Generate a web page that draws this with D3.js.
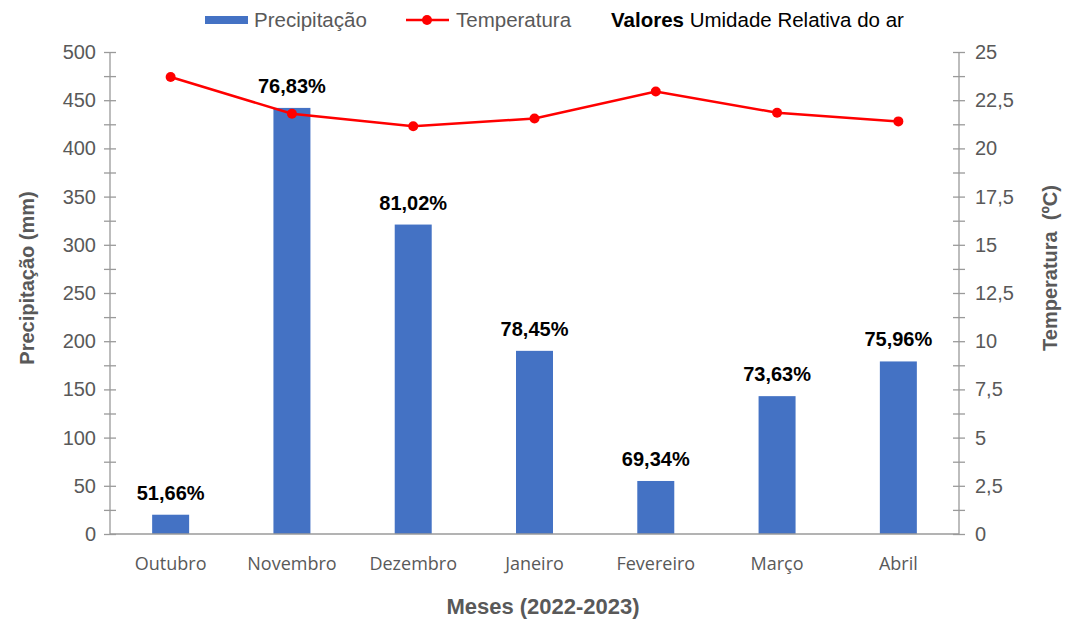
<!DOCTYPE html>
<meta charset="utf-8">
<head>
  <style>
    body { margin: 0; background: #fff; }
    svg { background: #fff; }
    .tick text { fill: #595959; font-family: "Liberation Sans", Arial, sans-serif; font-size: 20px; }
    .axis path, .axis line { stroke: #9a9a9a; stroke-width: 1.3px; }
    .xaxis text { font-family: "Open Sans", sans-serif; font-size: 18px; fill: #595959; }
    .title { font-family: "Liberation Sans", Arial, sans-serif; font-weight: bold; font-size: 20px; fill: #595959; }
    .pct { font-family: "Liberation Sans", Arial, sans-serif; font-weight: bold; font-size: 20px; fill: #000; }
    .legend text { font-family: "Liberation Sans", Arial, sans-serif; font-size: 20.5px; }
  </style>
  <script src="https://cdn.jsdelivr.net/npm/d3@7"></script>
</head>
<body>
  <script>
    // data
    var months = ["Outubro", "Novembro", "Dezembro", "Janeiro", "Fevereiro", "Março", "Abril"]
      , precip = [20, 442, 321, 190, 55, 143, 179]
      , temp   = [23.7, 21.8, 21.15, 21.55, 22.95, 21.85, 21.4]
      , umid   = ["51,66%", "76,83%", "81,02%", "78,45%", "69,34%", "73,63%", "75,96%"]
      , precipTicks = d3.range(0, 501, 25)
      , tempTicks = d3.range(0, 25.01, 1.25)
      ;

    var width = 1065, height = 619
      , pLeft = 110, pRight = 959, pTop = 52, pBottom = 534;

    var svg = d3.select("body").append("svg")
      .attr("width", width)
      .attr("height", height);

    var x = d3.scaleBand().domain(months).range([pLeft, pRight]).paddingInner(0.695).paddingOuter(0.3475);
    var y = d3.scaleLinear().domain([0, 500]).range([pBottom, pTop]);
    var y2 = d3.scaleLinear().domain([0, 25]).range([pBottom, pTop]);

    var fmt = function(d) { return String(d).replace(".", ","); };

    // left axis
    var gl = svg.append("g").attr("class", "axis")
      .attr("transform", "translate(" + pLeft + ",0)")
      .call(d3.axisLeft(y).tickValues(precipTicks).tickSize(6).tickPadding(8)
        .tickFormat(function(d) { return d % 50 === 0 ? d : ""; }));
    gl.select(".domain").attr("d", "M0," + pTop + "V" + pBottom);
    gl.selectAll(".tick line").attr("x1", -6).attr("x2", 6);

    // right axis
    var gr = svg.append("g").attr("class", "axis")
      .attr("transform", "translate(" + pRight + ",0)")
      .call(d3.axisRight(y2).tickValues(tempTicks).tickSize(6).tickPadding(10)
        .tickFormat(function(d, i) { return i % 2 === 0 ? fmt(d) : ""; }));
    gr.select(".domain").attr("d", "M0," + pTop + "V" + pBottom);
    gr.selectAll(".tick line").attr("x1", -6).attr("x2", 6);

    // bars
    svg.selectAll(".bar").data(precip).enter().append("rect")
      .attr("class", "bar")
      .attr("x", function(d, i) { return x(months[i]); })
      .attr("width", x.bandwidth())
      .attr("y", function(d) { return y(d); })
      .attr("height", function(d) { return pBottom - y(d); })
      .attr("fill", "#4472C4");

    // bottom axis
    var gx = svg.append("g").attr("class", "axis xaxis")
      .attr("transform", "translate(0," + pBottom + ")")
      .call(d3.axisBottom(x).tickSize(0).tickPadding(23));
    gx.select(".domain").attr("d", "M" + pLeft + ",0H" + pRight);
    gx.selectAll(".tick text").style("font-family", "'Open Sans', sans-serif").style("font-size", "18px");

    // humidity labels
    svg.selectAll(".pct").data(umid).enter().append("text")
      .attr("class", "pct")
      .attr("text-anchor", "middle")
      .attr("x", function(d, i) { return x(months[i]) + x.bandwidth() / 2; })
      .attr("y", function(d, i) { return y(precip[i]) - 15; })
      .text(function(d) { return d; });

    // temperature line
    var line = d3.line()
      .x(function(d, i) { return x(months[i]) + x.bandwidth() / 2; })
      .y(function(d) { return y2(d); });

    svg.append("path").datum(temp)
      .attr("d", line)
      .attr("fill", "none")
      .attr("stroke", "#FF0000")
      .attr("stroke-width", 2.5);

    svg.selectAll(".dot").data(temp).enter().append("circle")
      .attr("class", "dot")
      .attr("cx", function(d, i) { return x(months[i]) + x.bandwidth() / 2; })
      .attr("cy", function(d) { return y2(d); })
      .attr("r", 5)
      .attr("fill", "#FF0000");

    // axis titles
    svg.append("text").attr("class", "title")
      .attr("text-anchor", "middle")
      .style("font-size", "22px")
      .attr("x", 543).attr("y", 614)
      .text("Meses (2022-2023)");

    svg.append("text").attr("class", "title")
      .attr("text-anchor", "middle")
      .attr("transform", "translate(34,278)rotate(-90)")
      .text("Precipitação (mm)");

    svg.append("text").attr("class", "title")
      .attr("text-anchor", "middle")
      .attr("xml:space", "preserve")
      .style("white-space", "pre")
      .attr("transform", "translate(1057,268)rotate(-90)")
      .text("Temperatura  (ºC)");

    // legend
    var lg = svg.append("g").attr("class", "legend");
    lg.append("rect").attr("x", 205).attr("y", 16).attr("width", 43).attr("height", 8).attr("fill", "#4472C4");
    lg.append("text").attr("x", 254).attr("y", 27).attr("fill", "#595959").text("Precipitação");
    lg.append("line").attr("x1", 406).attr("x2", 449).attr("y1", 20).attr("y2", 20)
      .attr("stroke", "#FF0000").attr("stroke-width", 2.5);
    lg.append("circle").attr("cx", 427).attr("cy", 20).attr("r", 5).attr("fill", "#FF0000");
    lg.append("text").attr("x", 456).attr("y", 27).attr("fill", "#595959").text("Temperatura");
    var t3 = lg.append("text").attr("x", 611).attr("y", 27).attr("fill", "#000");
    t3.append("tspan").attr("font-weight", "bold").text("Valores");
    t3.append("tspan").text(" Umidade Relativa do ar");
  </script>
</body>
